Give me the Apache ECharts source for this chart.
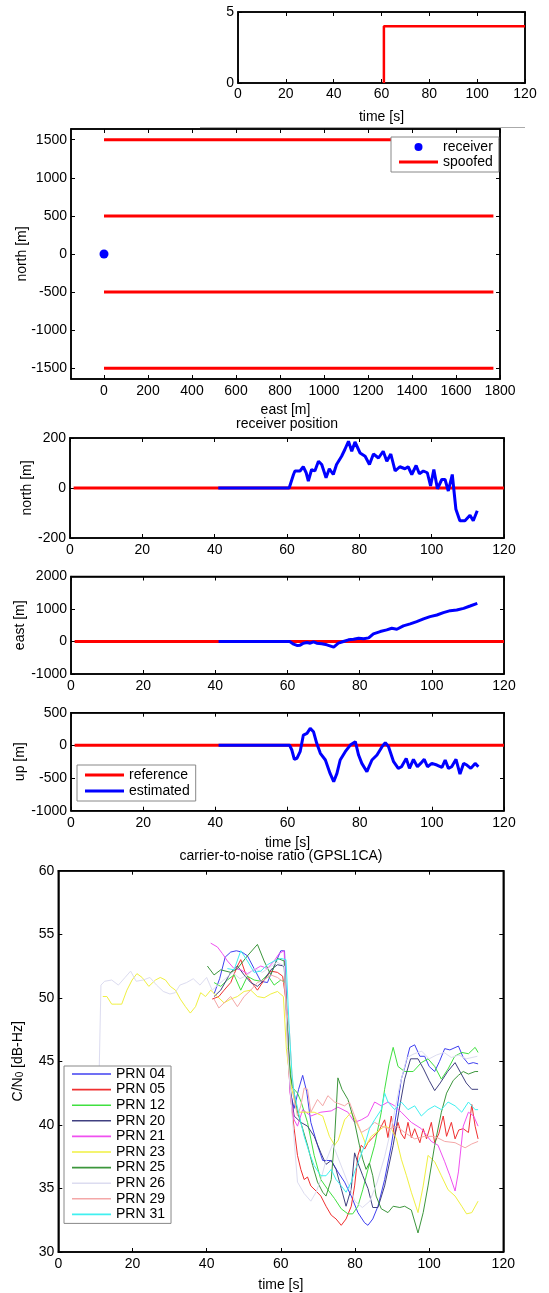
<!DOCTYPE html>
<html><head><meta charset="utf-8">
<script src="https://cdn.jsdelivr.net/npm/echarts@6/dist/echarts.min.js"></script>
<style>html,body{margin:0;padding:0;background:#fff}#c{width:549px;height:1293px}</style>
</head><body><div id="c"></div>
<script>
// ---------------- DATA ----------------
// panel 1: number of spoofed signals
const spoofStepTime = [61, 61, 120];
const spoofStepCount = [0, 4, 4];
// panel 2: positions
const receiverEast = [0];
const receiverNorth = [0];
const spoofedEastRange = [0, 1770];
const spoofedNorthLevels = [1500, 500, -500, -1500];
// panels 3-5: receiver position error vs time
const referenceTime = [1, 120];
const referenceValue = [0, 0];
const northTime = [41, 60.6, 61.8, 62.2, 63.6, 64.5, 65.3, 65.9, 66.8, 67.7, 68.7, 69.6, 70.8, 71.7, 72.8, 73.7, 75.1, 76.0, 77.0, 77.9, 78.8, 80.2, 81.6, 82.8, 83.9, 85.3, 86.6, 87.6, 88.7, 89.9, 91.2, 92.6, 93.5, 94.5, 95.7, 96.6, 97.7, 98.8, 99.7, 100.6, 101.6, 102.8, 103.7, 104.6, 105.7, 106.7, 107.8, 109.2, 110.6, 111.5, 112.6];
const northValue = [0, 0, 54, 68, 68, 85, 61, 28, 74, 68, 107, 94, 41, 77, 54, 94, 127, 154, 187, 147, 184, 140, 127, 94, 136, 120, 147, 107, 136, 68, 85, 77, 85, 54, 90, 57, 68, 61, 8, 74, -3, 34, 34, -12, 54, -85, -131, -131, -109, -131, -91];
const eastTime = [40.9, 60.6, 61.7, 62.6, 63.5, 64.4, 65.4, 66.3, 67.2, 68.1, 69.5, 70.9, 72.8, 74.1, 75.5, 76.9, 78.3, 79.7, 81.1, 82.5, 83.8, 85.7, 87.5, 88.9, 90.3, 92.1, 94.0, 95.8, 97.7, 99.5, 101.4, 103.2, 105.1, 106.9, 108.8, 110.6, 112.6];
const eastValue = [0, 0, -82, -122, -112, -51, -31, -51, -10, -51, -71, -102, -173, -51, 0, 51, 71, 102, 82, 112, 235, 306, 357, 408, 378, 480, 541, 612, 694, 765, 816, 888, 949, 969, 1020, 1092, 1173];
const upTime = [40.9, 60.6, 61.2, 61.9, 62.6, 63.5, 64.4, 65.4, 66.3, 67.2, 68.1, 69.1, 70.5, 71.8, 72.8, 73.7, 74.6, 76.0, 77.4, 78.8, 79.7, 80.6, 82.0, 83.4, 84.8, 86.2, 87.1, 88.0, 89.4, 90.7, 91.6, 92.9, 93.8, 94.9, 96.0, 96.9, 97.9, 98.8, 100.0, 101.4, 102.8, 103.7, 104.6, 105.5, 106.7, 107.8, 108.8, 109.7, 110.8, 112.0, 112.9];
const upValue = [0, 0, -71, -214, -199, -97, 158, 184, 260, 209, 31, -122, -224, -429, -556, -429, -224, -97, 5, 56, -148, -276, -403, -224, -148, -20, 41, -20, -250, -352, -327, -199, -352, -214, -327, -276, -214, -327, -276, -301, -337, -224, -352, -327, -214, -439, -276, -301, -352, -276, -327];
// panel 6: C/N0 per PRN, [time s, dB-Hz]
const prnNames = ['PRN 04', 'PRN 05', 'PRN 12', 'PRN 20', 'PRN 21', 'PRN 23', 'PRN 25', 'PRN 26', 'PRN 29', 'PRN 31'];
const prn04 = [[42,50.3],[43.5,51.5],[45,53.2],[46.5,53.6],[48,53.7],[49.5,53.6],[51,53.3],[52.8,52.3],[54.6,51.3],[56.4,51.2],[58.2,52.5],[60,53.7],[61,53.7],[61.8,48],[62.6,42.5],[63.6,41.3],[64.8,42.8],[65.9,43.9],[67,42.6],[68.1,40.2],[69.9,38.4],[71.3,37.2],[73.6,37.2],[75.4,36.3],[77.2,35.5],[79,34.4],[80.8,33.1],[82.6,32.3],[83.5,32.1],[84.8,32.6],[86.2,33.6],[88,35.7],[89.8,38.4],[91.2,41],[92.5,43.6],[93.4,44.5],[94.8,46.1],[96.1,46.3],[97.5,45.4],[98.8,45.4],[100,44.6],[101.5,44.2],[102.8,45],[104.2,46],[105.6,45.9],[107.9,46.2],[109.2,45.3],[110.6,44.8],[111.9,44.9],[113.2,44.8]];
const prn05 = [[41.5,49.9],[43.3,50.1],[44.7,50.6],[46.5,51.2],[48.3,52.5],[49.2,53.0],[50.5,51.9],[51.9,51.3],[53.7,50.6],[55.5,51.4],[57.3,52.1],[59.1,52.0],[60.5,51.7],[61.3,50],[62,45],[62.7,42],[63.6,39.7],[64.5,37.6],[65.4,36.5],[66.3,35.7],[67.2,35.9],[68.1,35.2],[69.5,34.8],[70.8,34.4],[72.2,33.6],[73.6,32.9],[74.9,32.6],[76.3,32.1],[77.6,32.6],[79,33.6],[79.9,35.2],[80.8,37.6],[81.7,38.4],[82.6,38.1],[83.5,38.6],[84.8,39],[86.4,39.5],[88,40.4],[88.9,39],[89.8,40.7],[90.7,39.1],[91.6,40.2],[92.5,39.3],[93.4,38.9],[94.3,40.2],[95.2,39],[96.1,39.7],[97.5,38.6],[98.4,39.7],[99.3,38.9],[100.6,40.2],[101.5,38.6],[102.6,39.3],[103.8,40.7],[104.7,39.1],[106,40.2],[107,38.9],[108,39.6],[109.2,39.7],[110.6,39.4],[111.5,41.6],[112.4,39.9],[113.2,38.9]];
const prn12 = [[42,51.2],[43.8,50.9],[45.6,51.4],[47.4,51.8],[49.2,50.6],[51,51.7],[52.8,51.4],[54.6,51.3],[56.4,51.8],[58.2,51.0],[60,51.4],[61.2,51.2],[62,46],[63,43],[64.5,42.5],[65.5,41.8],[67.2,40.2],[69,37.6],[70.8,35.7],[72.7,34.9],[74.5,34.2],[76.3,33.4],[78.1,33.0],[79.4,33.0],[80.8,33.6],[82.1,34.9],[83.5,36.5],[85.3,38.4],[87.1,41],[88,42.8],[89.2,44.8],[90.3,46.1],[91.6,44.6],[93.4,44.2],[95.7,44.2],[97.9,44.9],[99.7,45.2],[101.5,44.6],[103.3,43.6],[105.1,44.4],[106.9,45.4],[108.8,45.7],[110.6,45.6],[112.4,46.1],[113.2,45.7]];
const prn20 = [[42,50.1],[43.8,50.6],[46.5,52.0],[48.3,52.5],[50.1,51.8],[51.9,51.2],[53.7,50.9],[55.5,51.4],[57.3,52.2],[59.1,52.6],[60.9,52.5],[61.7,48],[62.5,43],[63.6,40.7],[65.4,40.2],[67.2,39.9],[69,39.1],[70.8,37.8],[72.2,36.9],[73.6,37.2],[74.9,36.5],[76.3,35],[77.6,33.6],[79,35],[79.9,37.8],[80.8,37],[82.1,36],[83.5,35],[84.8,33.5],[86.2,33.5],[88,35.2],[90.3,38.4],[92.1,41.5],[93.4,43.6],[95,45.2],[97,45.2],[98.5,44.4],[100,43.5],[101.5,42.7],[103,43.3],[105,44.2],[107,44.9],[108.5,44.1],[110,43.3],[111.5,42.8],[113.2,42.8]];
const prn21 = [[41.1,54.3],[42.9,54.0],[44.2,53.5],[45.6,52.9],[47.4,52.3],[49.2,52.2],[51,51.9],[52.8,52.2],[54.6,52.5],[56.4,52.3],[58.2,52.9],[59.6,53.5],[60.9,53.7],[61.6,49],[62.5,42.5],[63.6,40.4],[64.5,39.9],[65.9,41.2],[68.1,40.7],[70.8,41],[73.6,41.1],[75.4,41.4],[78.1,41],[79.9,40.2],[81.7,40.4],[83.5,40.7],[85.3,41.8],[87.1,41.5],[88.9,41.8],[90.7,41.5],[92.5,41],[95.2,40.2],[97.9,39.7],[100.6,38.7],[102.4,38.4],[104.2,37.1],[105.6,36],[107,34.8],[107.9,36.3],[109.2,39.9],[110.6,41],[112,40.7],[113.2,39.9]];
const prn23 = [[12,50.1],[13.1,50.1],[14.4,49.5],[15.8,49.5],[17.1,49.5],[18.5,50.6],[19.9,51.4],[21.2,51.9],[22.6,51.6],[24.4,50.9],[26.2,51.4],[27.5,51.6],[28.9,51.4],[30.2,50.9],[31.6,50.6],[32.9,49.9],[34.3,49.3],[35.6,48.8],[37,49.3],[38.4,50.4],[39.7,50.1],[41.1,50.6],[42.9,50.1],[44.7,49.6],[46.5,49.9],[48.3,50.1],[50.1,50.5],[51.9,50.6],[53.7,50.1],[55.5,50.0],[57.3,50.3],[59.1,50.5],[60.7,50.1],[61.5,46],[62.7,43.1],[64.5,41],[66.3,41],[69,41],[71.3,40.7],[73.1,39.1],[74.5,38.4],[75.5,38.8],[77.2,40.4],[79,41],[80.2,40.3],[81.7,39.4],[83,38.4],[84.4,39.1],[86.2,39.5],[88,39.9],[89.8,39.7],[91.2,38.9],[92.5,37.3],[93.9,36],[95.2,34.7],[97,33.1],[98.4,35.2],[99.7,37.6],[101.5,37.1],[103.3,36],[105.1,34.9],[107,34.4],[108.8,33.6],[110.1,33],[111.5,33.1],[113.2,34.0]];
const prn25 = [[40.2,52.5],[42,51.8],[43.8,52.2],[46.5,52.0],[48.3,52.3],[51,53.3],[53.7,54.2],[55.5,52.9],[57.3,51.8],[59.1,53.1],[60.9,52.9],[61.7,48],[62.5,44],[63.6,42.5],[64.5,41],[65.9,39.7],[67.2,38.4],[68.6,36.8],[69.9,35.5],[71.3,34.7],[72.2,34.4],[73.6,35.7],[74.5,38.9],[75.4,43.7],[76.5,42.8],[78.1,42],[79.9,40.2],[81.2,38.4],[82.1,37.3],[83,36.5],[83.9,37.0],[84.8,36],[85.7,34.4],[87.1,33.4],[88.9,33.1],[90.3,33.6],[92.1,33.5],[93.4,33.6],[95.2,33.3],[97,31.5],[98.4,33.1],[99.7,35.2],[101.5,38.4],[103.3,41],[104.7,42.5],[106.5,43.5],[107.9,43.9],[109.2,44.2],[110.6,44],[112.4,44.2],[113.2,44.2]];
const prn26 = [[10.8,41],[11.5,51],[12.5,51.3],[14.4,51.4],[16.2,51.0],[18,51.6],[19.5,52.1],[21,51.3],[22.9,51.4],[24.7,51.6],[26.5,51.0],[28.3,50.5],[30.1,50.3],[31.5,50.4],[32.8,51.0],[34.6,51.2],[36.4,51.5],[38.2,51.0],[40,51.6],[41.5,50.6],[43,51],[45,51.5],[47,52],[49,51.5],[51,51.8],[53,52.3],[55,52],[57,52.4],[59,52.8],[61,52.5],[61.8,46],[63,41],[64.5,35.5],[66.3,34.6],[68.1,34.0],[69.5,34.7],[70.8,35.7],[72,37],[74,38.5],[76,37],[78,35.5],[80,34],[82,33.5],[84,34],[86,35.5],[88,37.5],[90,40],[92,43],[94,45.3],[96,45.6],[98,45.8],[100,45.2],[102,45.5],[104,45.7],[106,45.3],[108,45.5],[110,45.2],[113,45.4]];
const prn29 = [[42,49.9],[43.3,49.2],[44.7,49.6],[46.5,50.1],[48.3,49.3],[50.1,50.1],[51.9,50.6],[53.7,51.2],[55.5,51.4],[57.3,51.8],[59.1,51.6],[60.9,51.2],[61.6,49],[62.3,47.5],[63,44],[63.6,42],[64.5,40.7],[65.4,41.5],[66.3,42.9],[67.2,42.8],[68.1,41],[69.9,42],[71.3,41.5],[72.7,42.3],[74.5,41.8],[77.2,41.5],[78.5,41.8],[79.9,40.7],[81.7,39.4],[83.5,39.7],[85.3,40.2],[87.1,39.9],[89.4,39.7],[91.2,39.9],[93.4,39.4],[96.1,38.9],[98.8,39.1],[101.5,39.1],[104.2,38.7],[107,38.6],[109.7,38.2],[111.5,38.5],[113.2,38.7]];
const prn31 = [[45.6,52.3],[47.4,52.2],[49.2,53.7],[51,52.9],[52.8,52.0],[54.6,52.1],[56.4,52.6],[58.2,52.9],[60,53.1],[61.4,53.0],[62.2,48],[63,44],[63.6,42.5],[65,40.7],[66.3,39.1],[67.7,37.8],[69,36.8],[70.8,36],[72.2,36],[73.6,36.5],[74.9,35.7],[76.3,35.2],[77.6,34.7],[79,35.5],[79.9,36.3],[81.2,37.3],[82.6,38.4],[83.9,39.7],[85.3,40.4],[87.1,41.2],[88,42.5],[88.9,41.8],[90.7,41.2],[92.5,41.8],[94.3,41.2],[96.1,41.5],[97.9,40.7],[99.7,41.2],[101.5,41.5],[103.3,41.2],[105.1,41.8],[107,41.5],[108.8,41],[110.6,41.8],[112.4,41.2],[113.2,41.2]];
const prnData = [prn04, prn05, prn12, prn20, prn21, prn23, prn25, prn26, prn29, prn31];
const prnColors = ['#4040f0', '#f03030', '#40e040', '#404080', '#f050f0', '#f0f040', '#3c963c', '#dcdcf0', '#f4a8a8', '#40f0f0'];
// tick labels
const eastTicks = [0, 200, 400, 600, 800, 1000, 1200, 1400, 1600, 1800];
const northTicks = [-1500, -1000, -500, 0, 500, 1000, 1500];

// ---------------- CHART ----------------
const FONT = 'Liberation Sans, Arial, sans-serif';
const zip = (a, b) => a.map((v, i) => [v, b[i]]);
const LS = {color: '#000', width: 1.5};
const fmt = v => String(v);

function xAxes(g, min, max, interval, extra) {
  const base = {type: 'value', gridIndex: g, min, max, interval,
    axisLine: {show: true, onZero: false, lineStyle: LS},
    axisTick: {show: true, inside: true, length: 4, lineStyle: {color: '#000', width: 1}},
    splitLine: {show: false}};
  const bottom = Object.assign({}, base, {position: 'bottom', nameMoveOverlap: false,
    axisLabel: {color: '#000', fontSize: 14, fontFamily: FONT, margin: 5, formatter: fmt}}, extra || {});
  const top = Object.assign({}, base, {position: 'top', axisLabel: {show: false}});
  if (extra && extra.axisTick) top.axisTick = extra.axisTick;
  return [bottom, top];
}
function yAxes(g, min, max, interval, extra) {
  const base = {type: 'value', gridIndex: g, min, max, interval,
    axisLine: {show: true, onZero: false, lineStyle: LS},
    axisTick: {show: true, inside: true, length: 4, lineStyle: {color: '#000', width: 1}},
    splitLine: {show: false}};
  const left = Object.assign({}, base, {position: 'left', nameMoveOverlap: false,
    axisLabel: {color: '#000', fontSize: 14, fontFamily: FONT, margin: 4, formatter: fmt},
    nameLocation: 'middle', nameTextStyle: {color: '#000', fontSize: 14, fontFamily: FONT}}, extra || {});
  const right = Object.assign({}, base, {position: 'right', axisLabel: {show: false}});
  if (extra && extra.axisTick) right.axisTick = extra.axisTick;
  return [left, right];
}
const xName = (name, gap) => ({name, nameLocation: 'middle', nameGap: gap, nameTextStyle: {color: '#000', fontSize: 14, fontFamily: FONT}});

const grids = [
  {left: 238, top: 12, width: 287, height: 71},
  {left: 71, top: 129, width: 429, height: 250},
  {left: 70, top: 438, width: 434, height: 100},
  {left: 71, top: 576.5, width: 433, height: 97.5},
  {left: 71, top: 712.7, width: 433, height: 98},
  {left: 58.3, top: 870.7, width: 445, height: 382.6}
].map(g => Object.assign(g, {show: true, borderColor: '#000', borderWidth: 1.5, backgroundColor: '#fff', containLabel: false}));

const tickCustom = vals => ({show: true, inside: true, length: 4, customValues: vals, lineStyle: {color: '#000', width: 1}});

let xAxis = [], yAxis = [];
xAxis.push(...xAxes(0, 0, 120, 20, Object.assign(xName('time [s]', 27), {axisLabel: {color: '#000', fontSize: 14, fontFamily: FONT, margin: 4, formatter: fmt}})));
yAxis.push(...yAxes(0, 0, 5, 5));
xAxis.push(...xAxes(1, -150, 1800, undefined, Object.assign(xName('east [m]', 24), {
  axisLabel: {color: '#000', fontSize: 14, fontFamily: FONT, margin: 5, formatter: fmt, customValues: eastTicks},
  axisTick: tickCustom(eastTicks)})));
yAxis.push(...yAxes(1, -1640, 1640, undefined, {name: 'north [m]', nameGap: 42,
  axisLabel: {color: '#000', fontSize: 14, fontFamily: FONT, margin: 4, formatter: fmt, customValues: northTicks},
  axisTick: tickCustom(northTicks)}));
xAxis.push(...xAxes(2, 0, 120, 20));
yAxis.push(...yAxes(2, -200, 200, 200, {name: 'north [m]', nameGap: 36}));
xAxis.push(...xAxes(3, 0, 120, 20));
yAxis.push(...yAxes(3, -1000, 2000, 1000, {name: 'east [m]', nameGap: 44}));
xAxis.push(...xAxes(4, 0, 120, 20, xName('time [s]', 25)));
yAxis.push(...yAxes(4, -1000, 500, 500, {name: 'up [m]', nameGap: 44}));
xAxis.push(...xAxes(5, 0, 120, 20, xName('time [s]', 26)));
yAxis.push(...yAxes(5, 30, 60, 5, {name: 'C/N{s|0} [dB-Hz]', nameGap: 33,
  nameTextStyle: {color: '#000', fontSize: 14, fontFamily: FONT, rich: {s: {fontSize: 10, fontFamily: FONT, color: '#000', verticalAlign: 'bottom', lineHeight: 10}}}}));

const series = [];
const ax = g => ({xAxisIndex: 2 * g, yAxisIndex: 2 * g});
series.push(Object.assign({type: 'line', name: 'spoofCount', data: zip(spoofStepTime, spoofStepCount), showSymbol: false,
  lineStyle: {color: '#ff0000', width: 2.5}, itemStyle: {color: '#ff0000'}}, ax(0)));
spoofedNorthLevels.forEach(n => series.push(Object.assign({type: 'line', name: 'spoofed',
  data: spoofedEastRange.map(e => [e, n]), showSymbol: false,
  lineStyle: {color: '#ff0000', width: 3}, itemStyle: {color: '#ff0000'}, z: 2}, ax(1))));
series.push(Object.assign({type: 'scatter', name: 'receiver', data: zip(receiverEast, receiverNorth), symbolSize: 9,
  itemStyle: {color: '#0000ff', opacity: 1}, z: 3}, ax(1)));
[[northTime, northValue], [eastTime, eastValue], [upTime, upValue]].forEach((d, i) => {
  series.push(Object.assign({type: 'line', name: 'reference', data: zip(referenceTime, referenceValue), showSymbol: false,
    lineStyle: {color: '#ff0000', width: 3}, itemStyle: {color: '#ff0000'}}, ax(2 + i)));
  series.push(Object.assign({type: 'line', name: 'estimated', data: zip(d[0], d[1]), showSymbol: false,
    lineStyle: {color: '#0000ff', width: 3}, itemStyle: {color: '#0000ff'}}, ax(2 + i)));
});
prnNames.forEach((n, i) => series.push(Object.assign({type: 'line', name: n, data: prnData[i], showSymbol: false,
  lineStyle: {color: prnColors[i], width: 1}, itemStyle: {color: prnColors[i]}}, ax(5))));

const legendBase = {orient: 'vertical', borderColor: '#888', borderWidth: 1, backgroundColor: '#fff', itemWidth: 39, itemHeight: 8,
  itemGap: 1, selectedMode: false, textStyle: {color: '#000', fontSize: 14, fontFamily: FONT}, borderRadius: 0};
const LINE_ICON = 'path://M0,0 L40,0 L40,3 L0,3 Z';
const THIN_ICON = 'path://M0,0 L40,0 L40,1.6 L0,1.6 Z';

const option = {
  animation: false,
  backgroundColor: '#fff',
  grid: grids, xAxis, yAxis, series,
  legend: [
    Object.assign({}, legendBase, {left: 391, top: 137, padding: [3, 6, 3, 8],
      data: [{name: 'receiver', icon: 'circle', itemStyle: {color: '#0000ff', opacity: 1}}, {name: 'spoofed', icon: LINE_ICON}]}),
    Object.assign({}, legendBase, {left: 77, top: 765, padding: [3, 6, 3, 8], itemGap: 2,
      data: [{name: 'reference', icon: LINE_ICON}, {name: 'estimated', icon: LINE_ICON}]}),
    Object.assign({}, legendBase, {left: 64, top: 1066, padding: [1, 6, 2, 8], itemGap: 1.6, itemHeight: 10,
      data: prnNames.map(n => ({name: n, icon: THIN_ICON}))})
  ],
  graphic: [
    {type: 'text', style: {text: 'receiver position', x: 287, y: 424, align: 'center', verticalAlign: 'middle', fill: '#000', fontSize: 14, fontFamily: FONT}},
    {type: 'text', style: {text: 'carrier-to-noise ratio (GPSL1CA)', x: 281, y: 856, align: 'center', verticalAlign: 'middle', fill: '#000', fontSize: 14, fontFamily: FONT}},
    {type: 'line', shape: {x1: 200, y1: 127.5, x2: 525, y2: 127.5}, style: {stroke: '#aaa', lineWidth: 1}}
  ]
};
const chart = echarts.init(document.getElementById('c'), null, {renderer: 'canvas', width: 549, height: 1293});
chart.setOption(option);
</script>
</body></html>
